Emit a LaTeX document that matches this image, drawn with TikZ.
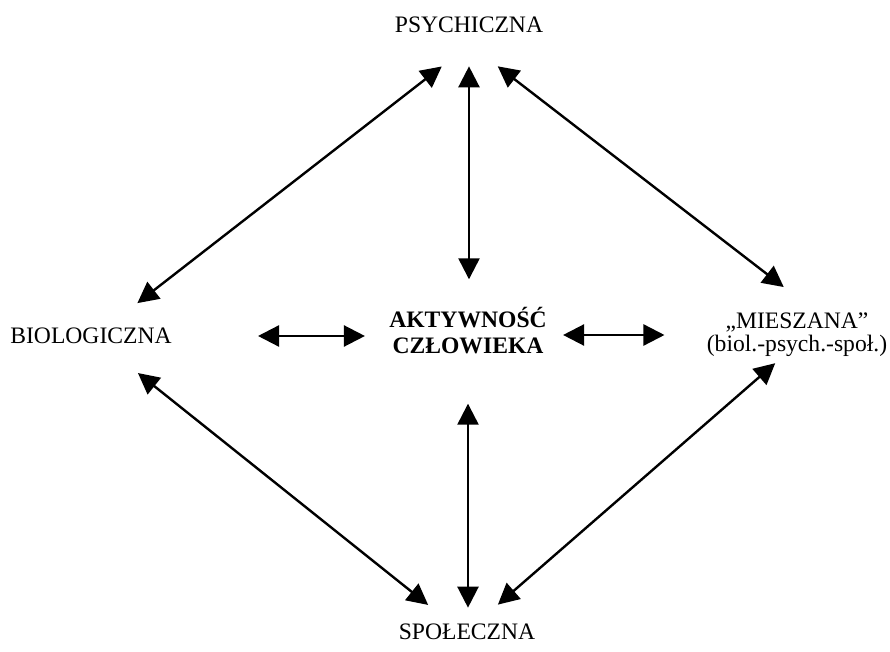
\documentclass[tikz,border=0pt]{standalone}
\usepackage{fontspec}
\setmainfont{Liberation Serif}
\usetikzlibrary{arrows.meta}
\begin{document}
\begin{tikzpicture}
    [x=0.5pt,y=-0.5pt,
     word/.style={inner sep=0pt,align=center,font=\fontsize{11.8}{13}\selectfont},
     arr/.style={line width=1.2pt,{Triangle[length=10.5pt,width=10.5pt]}-{Triangle[length=10.5pt,width=10.5pt]}}]
    \useasboundingbox (0,0) rectangle (890,652);
    \node[word] (P) at (469,25) {PSYCHICZNA};
    \node[word] (B) at (91,336) {BIOLOGICZNA};
    \node[word,font=\fontsize{11.8}{13}\selectfont\bfseries] (A) at (468,331) {AKTYWNOŚĆ\\CZŁOWIEKA};
    \node[word,font=\fontsize{11.8}{11.5}\selectfont] (M) at (797,335) {„MIESZANA”\\(biol.-psych.-społ.)};
    \node[word] (S) at (467,632) {SPOŁECZNA};
    
    \draw[arr,shorten <=27pt,shorten >=20pt] ([xshift=7.7pt]P.south) -- ([xshift=7.4pt]B.north);
    \draw[arr,shorten <=16.5pt,shorten >=14pt] (P) -- (P |- A.north);
    \draw[arr,shorten <=27pt,shorten >=21pt] ([xshift=-7pt]P.south) -- ([xshift=10pt]M.north);
    \draw[arr,shorten <=43pt,shorten >=12pt] (B) -- (B -| A.west);
    \draw[arr,shorten <=8pt,shorten >=21pt] (A.east |- M) -- (M);
    \draw[arr,shorten <=24.5pt,shorten >=8pt] (A) -- (A |- S.north);
    \draw[arr,shorten <=23pt,shorten >=15pt] ([xshift=5.5pt]B.south) -- ([xshift=-7.7pt]S.north);
    \draw[arr,shorten <=4.5pt,shorten >=14.5pt] ([xshift=-7.5pt]M.south) -- ([xshift=4.5pt]S.north);
  \end{tikzpicture}
\end{document}
